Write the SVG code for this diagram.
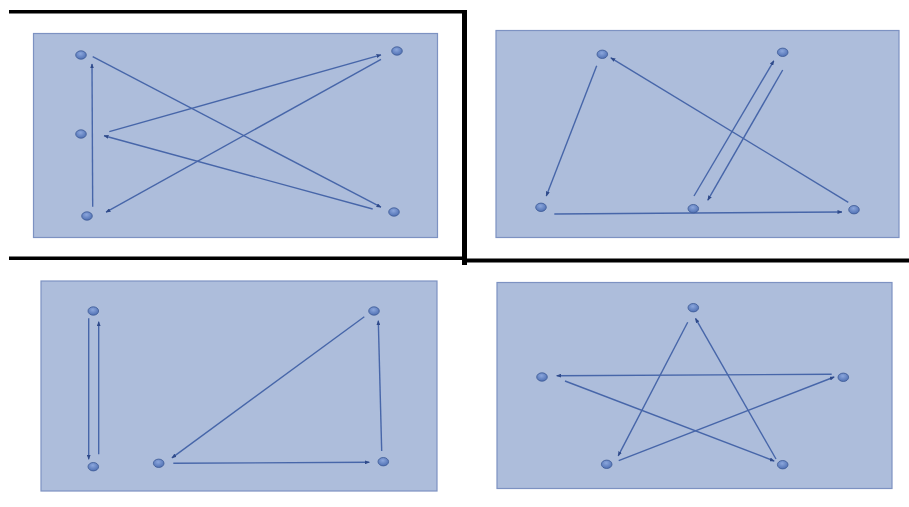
<svg xmlns="http://www.w3.org/2000/svg" width="909" height="507" viewBox="0 0 909 507">
<style>
.panel{fill:#adbddb;stroke:#7d92c2;stroke-width:1.2}
.node{fill:url(#ng);stroke:#3d5a96;stroke-width:0.8}
.edge{stroke:#4766a9;stroke-width:1.4;fill:none;marker-end:url(#ah)}
.bar{fill:#000}
</style>
<defs>
<radialGradient id="ng" cx="0.45" cy="0.35" r="0.7">
<stop offset="0" stop-color="#8ba6dc"/>
<stop offset="1" stop-color="#4b6cb0"/>
</radialGradient>
<marker id="ah" markerWidth="5" markerHeight="4" refX="4.5" refY="2" orient="auto" markerUnits="userSpaceOnUse">
<path d="M0,0 L5,2 L0,4 Z" fill="#2f4a8a"/>
</marker>
</defs>
<rect width="909" height="507" fill="#fff"/>
<g id="frame">
<rect class="bar" x="9" y="10" width="455" height="3.5"/>
<rect class="bar" x="462" y="10" width="5" height="255"/>
<rect class="bar" x="9" y="256.5" width="458" height="3.5"/>
<rect class="bar" x="467" y="258.5" width="442" height="4"/>
</g>
<g id="panels">
<rect class="panel" x="33.5" y="33.5" width="404" height="204"/>
<rect class="panel" x="496" y="30.5" width="403" height="207"/>
<rect class="panel" x="41" y="281" width="396" height="210"/>
<rect class="panel" x="497" y="282.5" width="395" height="206"/>
</g>
<g id="connectors">
<line class="edge" x1="92.7" y1="206.7" x2="92" y2="64"/>
<line class="edge" x1="92.7" y1="56.7" x2="381" y2="207.2"/>
<line class="edge" x1="109.3" y1="131.7" x2="381" y2="54.8"/>
<line class="edge" x1="381" y1="59.3" x2="106" y2="212.2"/>
<line class="edge" x1="372.7" y1="209" x2="104" y2="135.7"/>
<line class="edge" x1="596.7" y1="65.7" x2="546.3" y2="196"/>
<line class="edge" x1="554.3" y1="214" x2="842" y2="212"/>
<line class="edge" x1="848.3" y1="202.3" x2="610.8" y2="57.8"/>
<line class="edge" x1="694" y1="196" x2="773.8" y2="60.8"/>
<line class="edge" x1="782.7" y1="70" x2="707.8" y2="200.2"/>
<line class="edge" x1="88.7" y1="318.3" x2="88.7" y2="459.3"/>
<line class="edge" x1="98.7" y1="454.3" x2="98.7" y2="321.7"/>
<line class="edge" x1="364.3" y1="316.7" x2="171.9" y2="457.9"/>
<line class="edge" x1="173.3" y1="463.3" x2="369.3" y2="462.3"/>
<line class="edge" x1="381.7" y1="451" x2="378.3" y2="320.7"/>
<line class="edge" x1="687.7" y1="322.3" x2="618.2" y2="455.9"/>
<line class="edge" x1="776" y1="459" x2="695.5" y2="318.4"/>
<line class="edge" x1="831.7" y1="374.3" x2="556.7" y2="375.7"/>
<line class="edge" x1="565" y1="381" x2="774.2" y2="461"/>
<line class="edge" x1="618.7" y1="460.7" x2="834.2" y2="377"/>
</g>
<g id="p1n1"><ellipse class="node" cx="81" cy="55" rx="5.3" ry="4.2"/></g>
<g id="p1n2"><ellipse class="node" cx="397" cy="51" rx="5.3" ry="4.2"/></g>
<g id="p1n3"><ellipse class="node" cx="81" cy="134" rx="5.3" ry="4.2"/></g>
<g id="p1n4"><ellipse class="node" cx="87" cy="216" rx="5.3" ry="4.2"/></g>
<g id="p1n5"><ellipse class="node" cx="394" cy="212" rx="5.3" ry="4.2"/></g>
<g id="p2n1"><ellipse class="node" cx="602.3" cy="54.3" rx="5.3" ry="4.2"/></g>
<g id="p2n2"><ellipse class="node" cx="782.7" cy="52.3" rx="5.3" ry="4.2"/></g>
<g id="p2n3"><ellipse class="node" cx="541" cy="207.3" rx="5.3" ry="4.2"/></g>
<g id="p2n4"><ellipse class="node" cx="693.3" cy="208.7" rx="5.3" ry="4.2"/></g>
<g id="p2n5"><ellipse class="node" cx="854" cy="209.7" rx="5.3" ry="4.2"/></g>
<g id="p3n1"><ellipse class="node" cx="93.3" cy="311" rx="5.3" ry="4.2"/></g>
<g id="p3n2"><ellipse class="node" cx="374" cy="311" rx="5.3" ry="4.2"/></g>
<g id="p3n3"><ellipse class="node" cx="93.3" cy="466.7" rx="5.3" ry="4.2"/></g>
<g id="p3n4"><ellipse class="node" cx="158.7" cy="463.3" rx="5.3" ry="4.2"/></g>
<g id="p3n5"><ellipse class="node" cx="383.3" cy="461.7" rx="5.3" ry="4.2"/></g>
<g id="p4n1"><ellipse class="node" cx="693.3" cy="307.7" rx="5.3" ry="4.2"/></g>
<g id="p4n2"><ellipse class="node" cx="542" cy="377" rx="5.3" ry="4.2"/></g>
<g id="p4n3"><ellipse class="node" cx="843.3" cy="377.3" rx="5.3" ry="4.2"/></g>
<g id="p4n4"><ellipse class="node" cx="606.7" cy="464.3" rx="5.3" ry="4.2"/></g>
<g id="p4n5"><ellipse class="node" cx="782.7" cy="464.7" rx="5.3" ry="4.2"/></g>
</svg>
